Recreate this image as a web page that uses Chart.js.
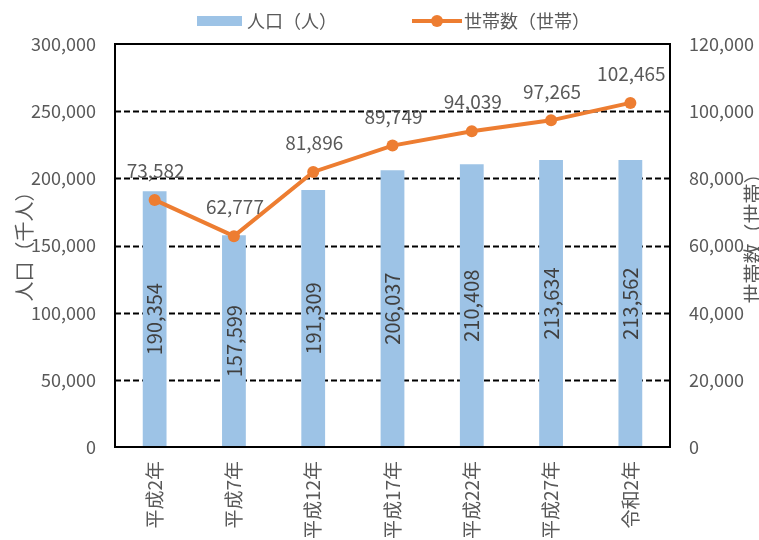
<!DOCTYPE html>
<html>
<head>
<meta charset="utf-8">
<script src="https://cdn.jsdelivr.net/npm/chart.js@4/dist/chart.umd.min.js"></script>
<style>
  html, body { margin: 0; padding: 0; background: #fff; }
  #wrap { width: 759px; height: 540px; }
</style>
</head>
<body>
<div id="wrap"><canvas id="chart"></canvas></div>
<script>
// data
const categories = ['平成2年', '平成7年', '平成12年', '平成17年', '平成22年', '平成27年', '令和2年'];
const population = [190354, 157599, 191309, 206037, 210408, 213634, 213562];
const households = [73582, 62777, 81896, 89749, 94039, 97265, 102465];
const popLabel = '人口（人）';
const hhLabel = '世帯数（世帯）';
const popAxisTitle = '人口（千人）';
const hhAxisTitle = '世帯数（世帯）';

const FONT = '"Noto Sans CJK JP", "Noto Sans", sans-serif';
const GREY = '#595959';
const BLUE = '#9DC3E6';
const ORANGE = '#ED7D31';

const fmt = v => Number(v).toLocaleString('en-US');

// dashed grid, value labels, frame, legend and axis titles
const overlay = {
    id: 'overlay',
    beforeDatasetsDraw(chart) {
        const ctx = chart.ctx;
        const a = chart.chartArea;
        const y = chart.scales.y;
        ctx.save();
        ctx.strokeStyle = '#000';
        ctx.lineWidth = 1.8;
        ctx.setLineDash([6, 3]);
        y.ticks.forEach(t => {
            if (t.value <= 0 || t.value >= 300000) return;
            const py = Math.round(y.getPixelForValue(t.value)) + 0.5;
            ctx.beginPath();
            ctx.moveTo(a.left, py);
            ctx.lineTo(a.right, py);
            ctx.stroke();
        });
        ctx.restore();
    },
    afterDatasetsDraw(chart) {
        const ctx = chart.ctx;
        ctx.save();
        ctx.textAlign = 'center';
        ctx.textBaseline = 'middle';

        // bar labels, vertical, centred in the bar
        ctx.font = '20px ' + FONT;
        ctx.fillStyle = '#404040';
        chart.getDatasetMeta(0).data.forEach((bar, i) => {
            const cy = (bar.y + bar.base) / 2;
            ctx.save();
            ctx.translate(bar.x, cy);
            ctx.rotate(-Math.PI / 2);
            ctx.fillText(fmt(population[i]), 0, 0);
            ctx.restore();
        });

        // line labels above the points
        ctx.font = '19px ' + FONT;
        ctx.fillStyle = GREY;
        chart.getDatasetMeta(1).data.forEach((pt, i) => {
            ctx.fillText(fmt(households[i]), pt.x + 1, pt.y - 29);
        });
        ctx.restore();
    },
    afterDraw(chart) {
        const ctx = chart.ctx;
        const a = chart.chartArea;
        ctx.save();

        // plot frame
        ctx.strokeStyle = '#000';
        ctx.lineWidth = 2;
        ctx.strokeRect(a.left, a.top, a.right - a.left, a.bottom - a.top);

        // legend
        ctx.fillStyle = BLUE;
        ctx.fillRect(197, 16, 45, 10);
        ctx.strokeStyle = ORANGE;
        ctx.lineWidth = 4;
        ctx.beginPath();
        ctx.moveTo(412, 21);
        ctx.lineTo(462, 21);
        ctx.stroke();
        ctx.fillStyle = ORANGE;
        ctx.beginPath();
        ctx.arc(437, 21, 6, 0, Math.PI * 2);
        ctx.fill();

        ctx.font = '18px ' + FONT;
        ctx.fillStyle = GREY;
        ctx.textAlign = 'left';
        ctx.textBaseline = 'middle';
        ctx.fillText(popLabel, 247, 21);
        ctx.fillText(hhLabel, 464, 21);

        // axis titles (the right one runs off the edge, as in the source)
        const midY = (a.top + a.bottom) / 2;
        ctx.font = '20px ' + FONT;
        ctx.textAlign = 'center';
        ctx.save();
        ctx.translate(24, midY - 4);
        ctx.rotate(-Math.PI / 2);
        ctx.fillText(popAxisTitle, 0, 0);
        ctx.restore();
        ctx.save();
        ctx.translate(753, midY - 12);
        ctx.rotate(-Math.PI / 2);
        ctx.fillText(hhAxisTitle, 0, 0);
        ctx.restore();

        ctx.restore();
    }
};

const ctx = document.getElementById('chart').getContext('2d');
const chart = new Chart(ctx, {
    type: 'bar',
    data: {
        labels: categories,
        datasets: [{
            type: 'bar',
            label: popLabel,
            data: population,
            backgroundColor: BLUE,
            barPercentage: 0.3,
            categoryPercentage: 1,
            yAxisID: 'y',
            order: 1
        }, {
            type: 'line',
            label: hhLabel,
            data: households,
            borderColor: ORANGE,
            backgroundColor: ORANGE,
            borderWidth: 4,
            pointRadius: 6,
            pointBackgroundColor: ORANGE,
            pointBorderWidth: 0,
            tension: 0,
            yAxisID: 'y1',
            order: 0
        }]
    },
    options: {
        responsive: true,
        maintainAspectRatio: false,
        animation: false,
        layout: { padding: { top: 44, left: 0, right: 0, bottom: 0 } },
        plugins: {
            legend: { display: false },
            tooltip: { enabled: false }
        },
        scales: {
            x: {
                grid: { display: false },
                border: { display: false },
                ticks: {
                    color: GREY,
                    font: { family: FONT, size: 19 },
                    minRotation: 90,
                    maxRotation: 90,
                    padding: 6
                },
                afterFit(scale) { scale.height = 93; }
            },
            y: {
                position: 'left',
                min: 0,
                max: 300000,
                grid: { display: false, drawTicks: false },
                border: { display: false },
                ticks: {
                    stepSize: 50000,
                    color: GREY,
                    font: { family: FONT, size: 18 },
                    padding: 19,
                    callback: v => fmt(v)
                },
                afterFit(scale) { scale.width = 115; }
            },
            y1: {
                position: 'right',
                min: 0,
                max: 120000,
                grid: { display: false, drawTicks: false },
                border: { display: false },
                ticks: {
                    stepSize: 20000,
                    color: GREY,
                    font: { family: FONT, size: 18 },
                    padding: 19,
                    callback: v => fmt(v)
                },
                afterFit(scale) { scale.width = 89; }
            }
        }
    },
    plugins: [overlay]
});
</script>
</body>
</html>
